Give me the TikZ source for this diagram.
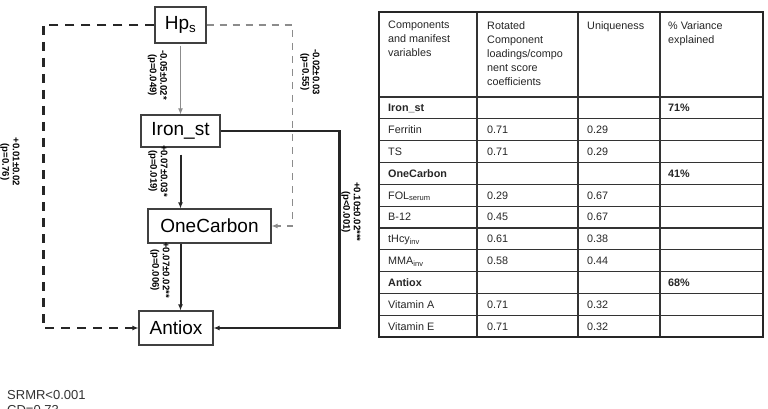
\documentclass[tikz,border=0pt]{standalone}
\usepackage{fontspec}
\setmainfont{Liberation Sans}
\usetikzlibrary{arrows.meta}
\begin{document}
\begin{tikzpicture}[x=1pt,y=-1pt,
  box/.style={draw=black!75,line width=1.1pt,inner sep=0pt,font=\fontsize{19}{22}\selectfont},
  lab/.style={rotate=-90,align=center,font=\bfseries\fontsize{9.6}{10.4}\selectfont,inner sep=0pt},
  arr/.style={-{Latex[length=6pt,width=5pt]}},
  thickdash/.style={line width=2.6pt,dash pattern=on 9pt off 7pt,black!85},
  graydash/.style={line width=1.3pt,dash pattern=on 7pt off 6pt,black!45},
  tline/.style={line width=1.2pt,black!80},
  cell/.style={anchor=west,inner sep=0pt,text height=8pt,text depth=2pt,font=\fontsize{10.8}{13}\selectfont,black!85},
  head/.style={anchor=north west,inner sep=0pt,align=left,font=\fontsize{10.8}{14}\selectfont,black!85},
  note/.style={anchor=base west,inner sep=0pt,align=left,font=\fontsize{13}{15}\selectfont,black!80}
]
\useasboundingbox (0,0) rectangle (768,409);
\fill[white] (0,0) rectangle (768,409);
\clip (0,0) rectangle (768,409);

% boxes
\node[box,minimum width=51pt,minimum height=36pt] (hps) at (180.5,25) {Hp\textsubscript{s}};
\node[box,minimum width=79pt,minimum height=32pt] (iron) at (180.5,131) {Iron\_st};
\node[box,minimum width=123pt,minimum height=34pt] (one) at (209.5,226) {OneCarbon};
\node[box,minimum width=74pt,minimum height=34pt] (antiox) at (176,328) {Antiox};

% connectors
\draw[arr,black!45,line width=1.1pt,shorten <=2pt] (hps.south) -- (iron.north);
\draw[arr,black!85,line width=2pt,shorten <=7pt] (iron.south) -- (iron.south |- one.north);
\draw[arr,black!85,line width=2pt] (iron.south |- one.south) -- (iron.south |- antiox.north);
\draw[thickdash,arr] (hps.west) -- ++(-111,0) |- (antiox.west);
\draw[graydash,arr] (hps.east) -- ++(86,0) |- (one.east);
\draw[black!85,line width=2.4pt,arr] (iron.east) -- ++(119,0) |- (antiox.east);

% labels
\node[lab] (l1) at (157.5,75) {-0.05±0.02*\\(p=0.049)};
\node[lab] (l2) at (310,72) {-0.02±0.03\\(p=0.55)};
\node[lab] (l3) at (10,162) {+0.01±0.02\\(p=0.76)};
\node[lab] (l4) at (158,171) {+0.07±0.03*\\(p=0.019)};
\node[lab] (l5) at (160,270) {+0.07±0.02**\\(p=0.006)};
\node[lab] (l6) at (351,212) {+0.10±0.02***\\(p<0.001)};

% table
\foreach \x in {477,578,660} \draw[tline] (\x,12) -- (\x,337);
\foreach \y in {97,118.8,140.6,162.5,184.3,206.1,227.9,249.7,271.5,293.4,315.2} \draw[tline] (379,\y) -- (763,\y);
\draw[line width=2pt,black!85] (379,12) rectangle (763,337);

\node[head] (h1) at (388,21) {Components\\and manifest\\variables};
\node[head] (h2) at (487,21) {Rotated\\Component\\loadings/compo\\nent score\\coefficients};
\node[head] (h3) at (587,21) {Uniqueness};
\node[head] (h4) at (668,21) {\% Variance\\explained};

\foreach \i/\a/\b/\c/\d in {
  1/{\textbf{Iron\_st}}/{}/{}/{\textbf{71\%}},
  2/{Ferritin}/{0.71}/{0.29}/{},
  3/{TS}/{0.71}/{0.29}/{},
  4/{\textbf{OneCarbon}}/{}/{}/{\textbf{41\%}},
  5/{FOL\textsubscript{serum}}/{0.29}/{0.67}/{},
  6/{B-12}/{0.45}/{0.67}/{},
  7/{tHcy\textsubscript{inv}}/{0.61}/{0.38}/{},
  8/{MMA\textsubscript{inv}}/{0.58}/{0.44}/{},
  9/{\textbf{Antiox}}/{}/{}/{\textbf{68\%}},
  10/{Vitamin A}/{0.71}/{0.32}/{},
  11/{Vitamin E}/{0.71}/{0.32}/{}}{
  \pgfmathsetmacro\yc{97+(\i-0.5)*21.818+1}
  \node[cell] (a\i) at (388,\yc) {\a};
  \node[cell] (b\i) at (487,\yc) {\b};
  \node[cell] (c\i) at (587,\yc) {\c};
  \node[cell] (d\i) at (668,\yc) {\d};
}

% fit note (second line cut off by the picture's lower edge)
\node[note] (fit) at (7,414) {SRMR<0.001\\CD=0.73};
\end{tikzpicture}
\end{document}
